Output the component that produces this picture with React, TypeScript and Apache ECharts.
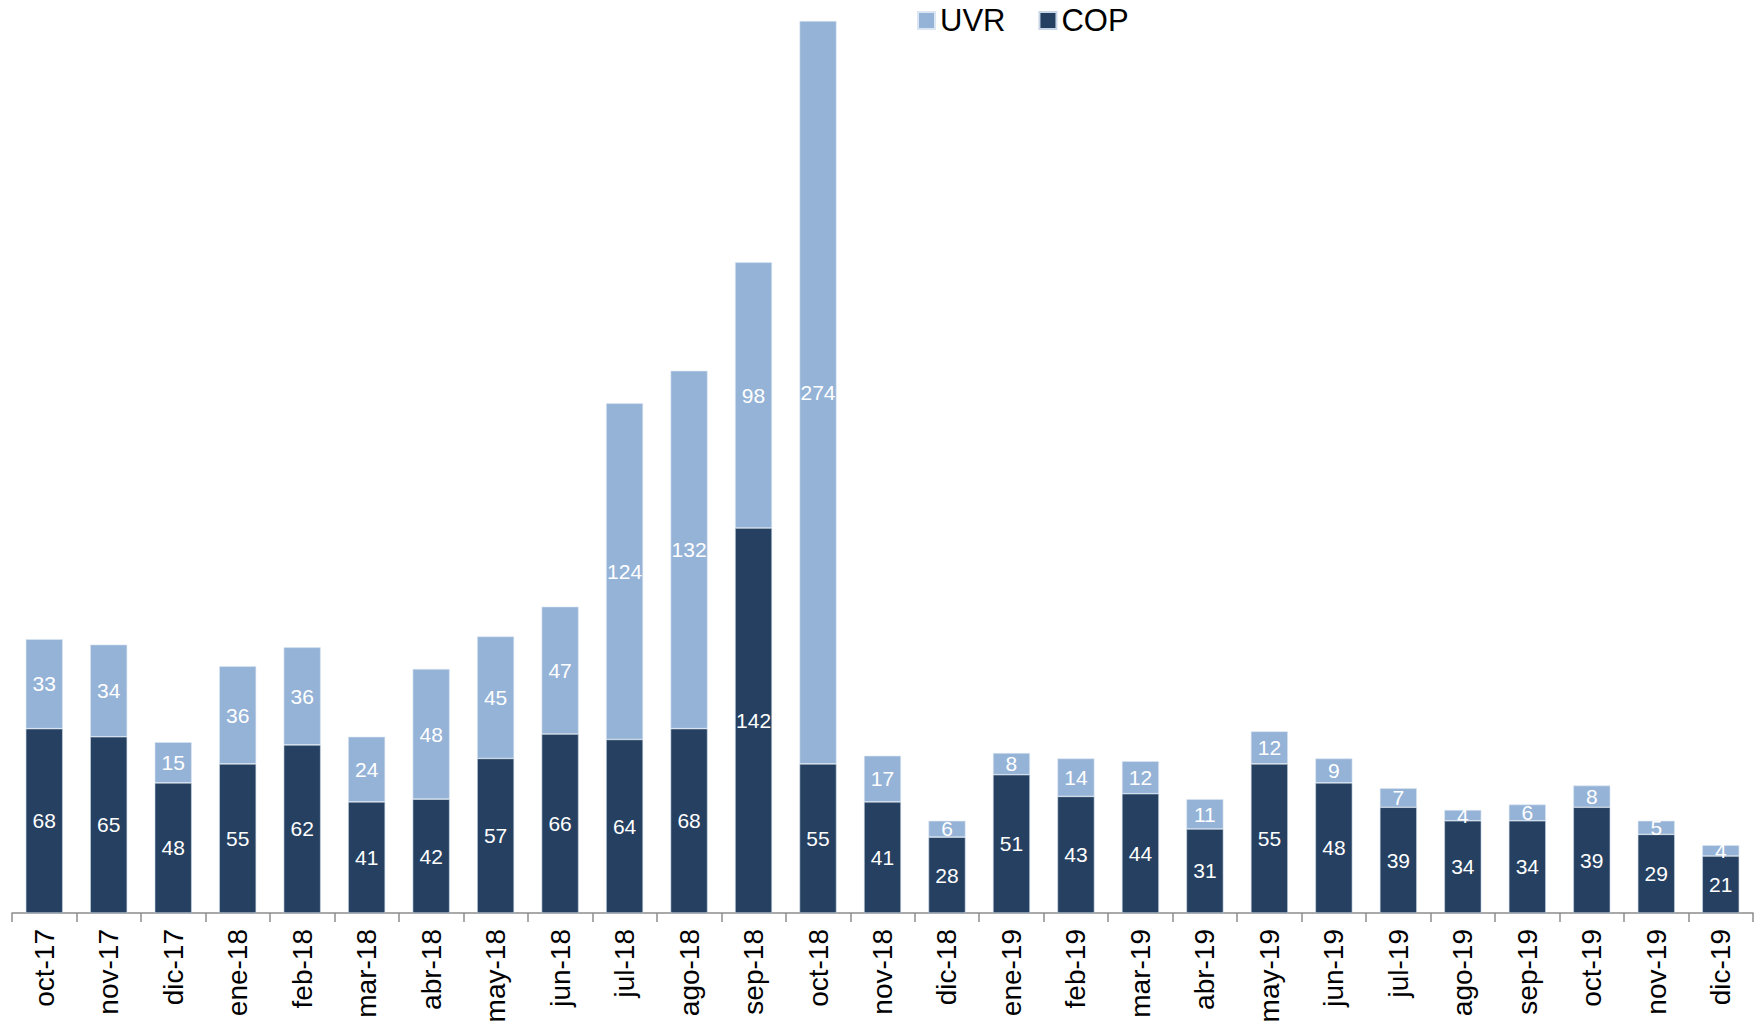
import React, { useEffect, useRef } from "react";
import * as echarts from "echarts";

const categories = [
  "oct-17", "nov-17", "dic-17", "ene-18", "feb-18", "mar-18", "abr-18", "may-18", "jun-18",
  "jul-18", "ago-18", "sep-18", "oct-18", "nov-18", "dic-18", "ene-19", "feb-19", "mar-19",
  "abr-19", "may-19", "jun-19", "jul-19", "ago-19", "sep-19", "oct-19", "nov-19", "dic-19",
];
const copValues = [68, 65, 48, 55, 62, 41, 42, 57, 66, 64, 68, 142, 55, 41, 28, 51, 43, 44, 31, 55, 48, 39, 34, 34, 39, 29, 21];
const uvrValues = [33, 34, 15, 36, 36, 24, 48, 45, 47, 124, 132, 98, 274, 17, 6, 8, 14, 12, 11, 12, 9, 7, 4, 6, 8, 5, 4];

const FONT = "Arial, 'Liberation Sans', sans-serif";

export default function App() {
  const ref = useRef<HTMLDivElement>(null);
  useEffect(() => {
    document.body.style.margin = "0";
    if (!ref.current) return;
    const chart = echarts.init(ref.current, null, { renderer: "svg" });
    const labelStyle = {
      show: true,
      position: "inside",
      color: "#ffffff",
      fontSize: 21,
      fontFamily: FONT,
    };
    chart.setOption({
      animation: false,
      backgroundColor: "#ffffff",
      legend: {
        data: ["UVR", "COP"],
        left: 912,
        top: 0,
        icon: "rect",
        itemWidth: 17,
        itemHeight: 17,
        itemGap: 33,
        textStyle: { fontSize: 31, fontFamily: FONT, color: "#000000" },
      },
      grid: { left: 12, right: 11, top: 21, bottom: 114, containLabel: false },
      xAxis: {
        type: "category",
        data: categories,
        axisLine: { show: true, lineStyle: { color: "#8c8c8c", width: 1.5 } },
        axisTick: { show: true, length: 9, lineStyle: { color: "#8c8c8c", width: 1.5 } },
        axisLabel: {
          rotate: 90,
          margin: 16,
          fontSize: 28,
          fontFamily: FONT,
          color: "#000000",
          interval: 0,
        },
      },
      yAxis: {
        type: "value",
        min: 0,
        max: 329,
        show: false,
        splitLine: { show: false },
      },
      series: [
        {
          name: "COP",
          type: "bar",
          stack: "total",
          data: copValues,
          barWidth: 37,
          itemStyle: { color: "#254061", borderColor: "#c9d6e6", borderWidth: 0.6 },
          label: labelStyle,
        },
        {
          name: "UVR",
          type: "bar",
          stack: "total",
          data: uvrValues,
          barWidth: 37,
          itemStyle: { color: "#95B3D7", borderColor: "#dce6f2", borderWidth: 0.6 },
          label: labelStyle,
        },
      ],
    });
    return () => chart.dispose();
  }, []);
  return (
    <div
      ref={ref}
      style={{ position: "fixed", left: 0, top: 0, width: 1764, height: 1027 }}
    />
  );
}
